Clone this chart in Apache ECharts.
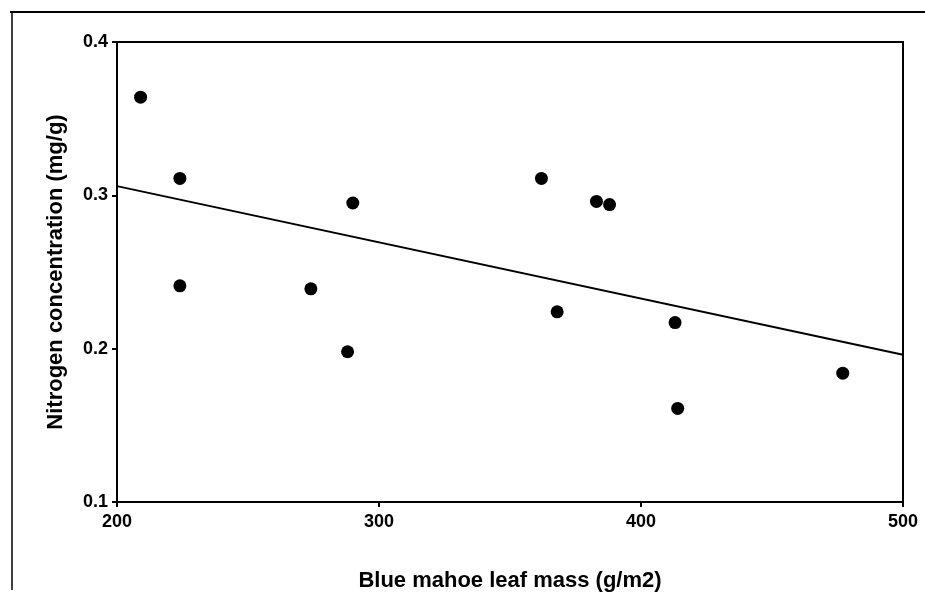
<!DOCTYPE html>
<html>
<head>
<meta charset="utf-8">
<script src="https://cdn.jsdelivr.net/npm/echarts@6/dist/echarts.min.js"></script>
<style>html,body{margin:0;padding:0;background:#fff}#c{width:925px;height:592px}</style>
</head>
<body>
<div id="c"></div>
<script>
const leafMass = [209, 224, 224, 274, 288, 290, 362, 368, 383, 388, 413, 414, 477];
const nitrogen = [0.364, 0.311, 0.241, 0.239, 0.198, 0.295, 0.311, 0.224, 0.296, 0.294, 0.217, 0.161, 0.184];
const fitX = [200, 500];
const fitY = [0.306, 0.196];
const xTicks = [200, 300, 400, 500];
const yTicks = [0.1, 0.2, 0.3, 0.4];
const xTitle = 'Blue mahoe leaf mass (g/m2)';
const yTitle = 'Nitrogen concentration (mg/g)';

const chart = echarts.init(document.getElementById('c'));
const font = 'Liberation Sans, Arial, sans-serif';
chart.setOption({
  animation: false,
  backgroundColor: '#fff',
  grid: { left: 117, right: 22, top: 42, bottom: 90, outerBoundsMode: 'none', containLabel: false,
    show: true, borderColor: '#000', borderWidth: 2 },
  graphic: [
    { type: 'line', shape: { x1: 10, y1: 12, x2: 925, y2: 12 }, style: { stroke: '#000', lineWidth: 2 } },
    { type: 'line', shape: { x1: 12, y1: 12, x2: 12, y2: 590 }, style: { stroke: '#000', lineWidth: 1.5 } }
  ],
  xAxis: {
    type: 'value', min: xTicks[0], max: xTicks[xTicks.length - 1], interval: 100,
    name: xTitle, nameLocation: 'middle', nameGap: 68,
    nameTextStyle: { color: '#000', fontFamily: font, fontSize: 22, fontWeight: 'bold' },
    axisLine: { lineStyle: { color: '#000', width: 2 } },
    axisTick: { show: true, length: 5, lineStyle: { color: '#000', width: 2 } },
    axisLabel: { color: '#000', fontFamily: font, fontSize: 18, fontWeight: 'bold', margin: 11 },
    splitLine: { show: false }
  },
  yAxis: {
    type: 'value', min: yTicks[0], max: yTicks[yTicks.length - 1], interval: 0.1,
    name: yTitle, nameLocation: 'middle', nameGap: 50,
    nameTextStyle: { color: '#000', fontFamily: font, fontSize: 22, fontWeight: 'bold' },
    axisLine: { lineStyle: { color: '#000', width: 2 } },
    axisTick: { show: true, length: 5, lineStyle: { color: '#000', width: 2 } },
    axisLabel: { color: '#000', fontFamily: font, fontSize: 18, fontWeight: 'bold', margin: 9,
      formatter: v => v.toFixed(1) },
    splitLine: { show: false }
  },
  series: [
    {
      type: 'scatter',
      data: leafMass.map((x, i) => [x, nitrogen[i]]),
      symbol: 'circle', symbolSize: 13,
      itemStyle: { color: '#000', opacity: 1 }
    },
    {
      type: 'line',
      data: fitX.map((x, i) => [x, fitY[i]]),
      showSymbol: false, symbol: 'none',
      lineStyle: { color: '#000', width: 2 }
    }
  ]
});
</script>
</body>
</html>
